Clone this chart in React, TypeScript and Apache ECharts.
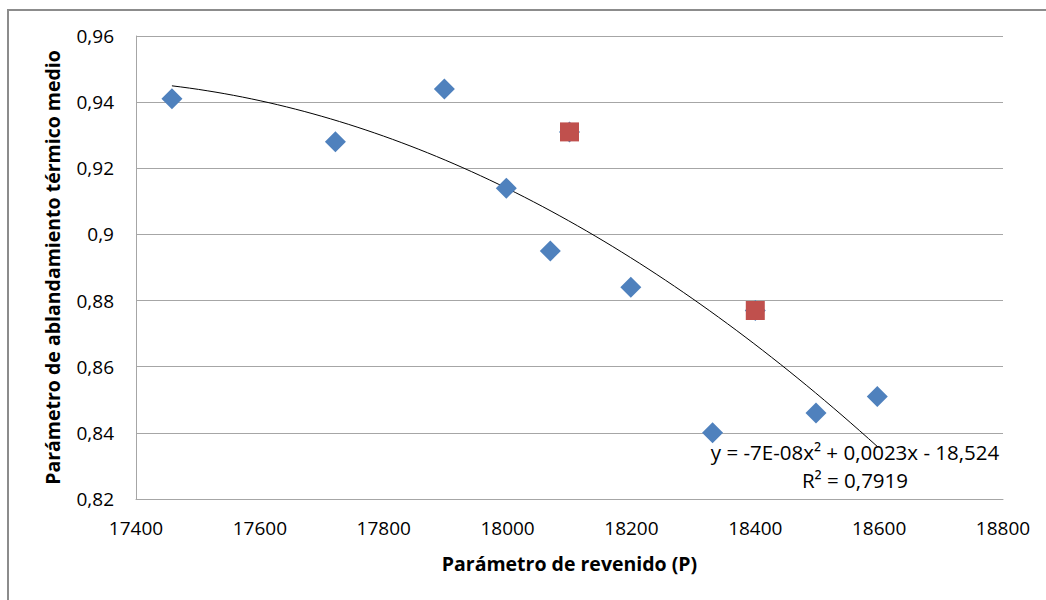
import React, { useEffect, useRef } from "react";
import * as echarts from "echarts";

// Parámetro de revenido (P) vs parámetro de ablandamiento térmico medio
const blueP = [17458, 17722, 17898, 17998, 18069, 18100, 18199, 18331, 18400, 18498, 18597];
const blueK = [0.941, 0.928, 0.944, 0.914, 0.895, 0.931, 0.884, 0.84, 0.877, 0.846, 0.851];
const redP = [18100, 18400];
const redK = [0.931, 0.877];

const xTicks = { min: 17400, max: 18800, interval: 200 };
const yTicks = { min: 0.82, max: 0.96, interval: 0.02 };

const trendLabel = "y = -7E-08x\u00B2 + 0,0023x - 18,524";
const r2Label = "R\u00B2 = 0,7919";

// Least-squares quadratic fit (centred on the mean for numerical stability)
function quadFit(xs: number[], ys: number[]) {
  const n = xs.length;
  const mx = xs.reduce((a, b) => a + b, 0) / n;
  let s1 = 0, s2 = 0, s3 = 0, s4 = 0, t0 = 0, t1 = 0, t2 = 0;
  for (let i = 0; i < n; i++) {
    const u = (xs[i] - mx) / 1000;
    const y = ys[i];
    s1 += u; s2 += u * u; s3 += u * u * u; s4 += u * u * u * u;
    t0 += y; t1 += u * y; t2 += u * u * y;
  }
  const M = [
    [n, s1, s2, t0],
    [s1, s2, s3, t1],
    [s2, s3, s4, t2],
  ];
  for (let c = 0; c < 3; c++) {
    let p = c;
    for (let r = c + 1; r < 3; r++) if (Math.abs(M[r][c]) > Math.abs(M[p][c])) p = r;
    [M[c], M[p]] = [M[p], M[c]];
    for (let r = 0; r < 3; r++) {
      if (r === c) continue;
      const f = M[r][c] / M[c][c];
      for (let k = c; k < 4; k++) M[r][k] -= f * M[c][k];
    }
  }
  const c0 = M[0][3] / M[0][0];
  const b1 = M[1][3] / M[1][1];
  const a2 = M[2][3] / M[2][2];
  return (x: number) => {
    const u = (x - mx) / 1000;
    return c0 + b1 * u + a2 * u * u;
  };
}

const FONT = "'Open Sans', 'Noto Sans', sans-serif";

export default function App() {
  const ref = useRef<HTMLDivElement>(null);

  useEffect(() => {
    document.body.style.margin = "0";
    if (!ref.current) return;
    const chart = echarts.init(ref.current, null, { renderer: "svg" });

    const fit = quadFit(blueP, blueK);
    const x0 = Math.min(...blueP);
    const x1 = Math.max(...blueP);
    const steps = 80;
    const trend: number[][] = [];
    for (let i = 0; i <= steps; i++) {
      const x = x0 + ((x1 - x0) * i) / steps;
      trend.push([x, fit(x)]);
    }

    chart.setOption({
      animation: false,
      backgroundColor: "#ffffff",
      grid: { left: 136, top: 36, right: 43, bottom: 101 },
      xAxis: {
        type: "value",
        min: xTicks.min,
        max: xTicks.max,
        interval: xTicks.interval,
        name: "Parámetro de revenido (P)",
        nameLocation: "middle",
        nameGap: 54,
        nameTextStyle: { fontFamily: FONT, fontSize: 19.5, fontWeight: "bold", color: "#000" },
        axisLine: { lineStyle: { color: "#a6a6a6", width: 1 } },
        axisTick: { show: false },
        splitLine: { show: false },
        axisLabel: {
          fontFamily: FONT,
          fontSize: 19,
          color: "#000",
          margin: 19,
          formatter: (v: number) => String(v),
        },
      },
      yAxis: {
        type: "value",
        min: yTicks.min,
        max: yTicks.max,
        interval: yTicks.interval,
        name: "Parámetro de ablandamiento térmico medio",
        nameLocation: "middle",
        nameGap: 74,
        nameTextStyle: { fontFamily: FONT, fontSize: 19.5, fontWeight: "bold", color: "#000" },
        axisLine: { show: true, lineStyle: { color: "#a6a6a6", width: 1 } },
        axisTick: { show: false },
        splitLine: { lineStyle: { color: "#a6a6a6", width: 1 } },
        axisLabel: {
          fontFamily: FONT,
          fontSize: 19,
          color: "#000",
          margin: 22,
          formatter: (v: number) => String(Number(v.toFixed(2))).replace(".", ","),
        },
      },
      series: [
        {
          type: "line",
          data: trend,
          showSymbol: false,
          lineStyle: { color: "#000", width: 1 },
          z: 1,
        },
        {
          type: "scatter",
          data: blueP.map((p, i) => [p, blueK[i]]),
          symbol: "diamond",
          symbolSize: [21, 21],
          itemStyle: { color: "#4f81bd", opacity: 1 },
          z: 2,
        },
        {
          type: "scatter",
          data: redP.map((p, i) => [p, redK[i]]),
          symbol: "rect",
          symbolSize: 19,
          itemStyle: { color: "#c0504d", opacity: 1 },
          z: 3,
        },
      ],
      graphic: [
        {
          type: "rect",
          shape: { x: 8, y: 10, width: 1100, height: 700 },
          style: { fill: "none", stroke: "#8c8c8c", lineWidth: 2 },
          silent: true,
        },
        {
          type: "text",
          x: 855,
          y: 452,
          style: {
            text: trendLabel,
            font: `20.5px ${FONT}`,
            fill: "#000",
            textAlign: "center",
            textVerticalAlign: "middle",
          },
        },
        {
          type: "text",
          x: 855,
          y: 480,
          style: {
            text: r2Label,
            font: `20.5px ${FONT}`,
            fill: "#000",
            textAlign: "center",
            textVerticalAlign: "middle",
          },
        },
      ],
    });

    return () => chart.dispose();
  }, []);

  return <div ref={ref} style={{ width: 1046, height: 600 }} />;
}
